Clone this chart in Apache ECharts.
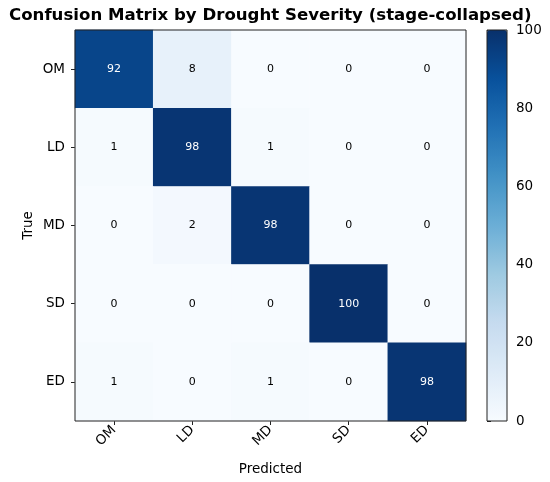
<!DOCTYPE html>
<html><head><meta charset="utf-8">
<script src="https://cdn.jsdelivr.net/npm/echarts@6/dist/echarts.min.js"></script>
<style>html,body{margin:0;padding:0;background:#fff}#c{width:550px;height:482px}</style>
</head><body><div id="c"></div>
<script>
const predictedLabels = ['OM','LD','MD','SD','ED'];
const trueLabels = ['OM','LD','MD','SD','ED'];
const matrixRows = [
  [92, 8, 0, 0, 0],
  [1, 98, 1, 0, 0],
  [0, 2, 98, 0, 0],
  [0, 0, 0, 100, 0],
  [1, 0, 1, 0, 98]
];
const colorbarTicks = [0, 20, 40, 60, 80, 100];
const blues = ['#f7fbff','#deebf7','#c6dbef','#9ecae1','#6baed6','#4292c6','#2171b5','#08519c','#08306b'];

const data = [];
matrixRows.forEach((row, i) => row.forEach((v, j) => data.push({value: [j, i, v], label: {color: v > 50 ? '#fff' : '#000'}})));

const font = 'DejaVu Sans';
const axisColor = '#222';
const chart = echarts.init(document.getElementById('c'), null, {renderer: 'canvas'});
chart.setOption({
  animation: false,
  textStyle: {fontFamily: font},
  title: {
    text: 'Confusion Matrix by Drought Severity (stage-collapsed)',
    left: 9, top: 7, padding: 0,
    textStyle: {fontFamily: font, fontWeight: 'bold', fontSize: 16.6, color: '#000'}
  },
  grid: [
    {left: 75, top: 30, width: 391, height: 391, show: true, borderColor: axisColor, borderWidth: 1, backgroundColor: 'transparent', z: 5},
    {left: 487, top: 30, width: 20, height: 391, show: true, borderColor: axisColor, borderWidth: 1, backgroundColor: 'transparent', z: 5}
  ],
  xAxis: [
    {type: 'category', data: predictedLabels, gridIndex: 0,
     name: 'Predicted', nameLocation: 'middle', nameGap: 41, nameMoveOverlap: false,
     nameTextStyle: {fontSize: 13.5, color: '#000', fontFamily: font},
     axisLine: {show: false}, axisTick: {show: true, alignWithLabel: true, length: 4, lineStyle: {color: axisColor}},
     axisLabel: {rotate: 45, fontSize: 13.5, color: '#000', margin: 7, fontFamily: font},
     splitLine: {show: false}},
    {type: 'value', gridIndex: 1, show: false, min: 0, max: 1}
  ],
  yAxis: [
    {type: 'category', data: trueLabels, gridIndex: 0, inverse: true,
     name: 'True', nameLocation: 'middle', nameGap: 40, nameRotate: 90, nameMoveOverlap: false,
     nameTextStyle: {fontSize: 13.5, color: '#000', fontFamily: font},
     axisLine: {show: false}, axisTick: {show: true, alignWithLabel: true, length: 4, lineStyle: {color: axisColor}},
     axisLabel: {fontSize: 13.5, color: '#000', margin: 10, fontFamily: font},
     splitLine: {show: false}},
    {type: 'value', gridIndex: 1, position: 'right', min: 0, max: 100, interval: 20,
     axisLine: {show: false}, axisTick: {show: true, inside: false, length: 4, lineStyle: {color: axisColor, width: 1}},
     axisLabel: {fontSize: 13.5, color: '#000', margin: 9, fontFamily: font,
       formatter: v => colorbarTicks.includes(v) ? String(v) : ''},
     splitLine: {show: false}}
  ],
  visualMap: [{
    type: 'continuous', min: 0, max: 100, seriesIndex: 0,
    inRange: {color: blues},
    calculable: false, realtime: false, hoverLink: false,
    indicatorSize: 0, showLabel: false,
    indicatorStyle: {opacity: 0, borderWidth: 0},
    handleStyle: {opacity: 0, borderWidth: 0},
    orient: 'vertical', left: 487, top: 30,
    itemWidth: 20, itemHeight: 391,
    padding: 0, z: 1
  }],
  series: [{
    type: 'heatmap', xAxisIndex: 0, yAxisIndex: 0,
    data: data,
    itemStyle: {borderWidth: 0},
    label: {show: true, fontSize: 11, fontFamily: font,
      formatter: p => String(p.value[2])},
    emphasis: {disabled: true}
  }]
});
</script></body></html>
